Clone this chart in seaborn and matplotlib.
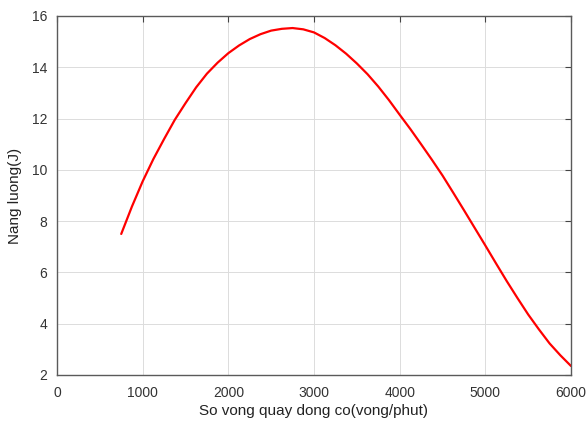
import pandas as pd
import matplotlib
matplotlib.use("Agg")
import matplotlib.pyplot as plt
import seaborn as sns

# values
rpm = [750, 875, 1000, 1125, 1250, 1375, 1500, 1625, 1750, 1875,
       2000, 2125, 2250, 2375, 2500, 2625, 2750, 2875, 3000, 3125,
       3250, 3375, 3500, 3625, 3750, 3875, 4000, 4125, 4250, 4375,
       4500, 4625, 4750, 4875, 5000, 5125, 5250, 5375, 5500, 5625,
       5750, 5875, 6000]
energy = [7.5, 8.57, 9.55, 10.42, 11.2, 11.95, 12.6, 13.22, 13.75, 14.18,
          14.55, 14.85, 15.1, 15.29, 15.43, 15.5, 15.53, 15.48, 15.36, 15.14,
          14.86, 14.53, 14.15, 13.73, 13.25, 12.72, 12.15, 11.59, 11.0, 10.4,
          9.78, 9.11, 8.43, 7.74, 7.05, 6.35, 5.66, 5.0, 4.36, 3.78,
          3.23, 2.77, 2.35]

df = pd.DataFrame({"rpm": rpm, "energy": energy})

sns.set_style("white")
plt.rcParams['font.family'] = ['Liberation Sans', 'DejaVu Sans']

fig = plt.figure(figsize=(5.88, 4.21), dpi=100)
ax = fig.add_axes([0.0969, 0.1093, 0.8742, 0.8527])

sns.lineplot(data=df, x="rpm", y="energy", color="red", linewidth=1.6, ax=ax)

ax.set_xlim(0, 6000)
ax.set_ylim(2, 16)
ax.set_xticks(range(0, 6001, 1000))
ax.set_yticks(range(2, 17, 2))
ax.grid(True, color="#dcdcdc", linewidth=0.7)
ax.set_axisbelow(True)

for s in ax.spines.values():
    s.set_visible(True)
    s.set_color("#5a5a5a")
    s.set_linewidth(1.0)

ax.tick_params(direction="in", length=4, width=0.8, color="#444444",
               top=True, right=True, labelsize=10, labelcolor="#333333")
ax.tick_params(axis="x", pad=8)
ax.tick_params(axis="y", pad=7)

ax.set_xlabel("So vong quay dong co(vong/phut)", fontsize=11, color="#222222", labelpad=3)
ax.set_ylabel("Nang luong(J)", fontsize=11, color="#222222", labelpad=7)

fig.savefig("out.png", dpi=100)
